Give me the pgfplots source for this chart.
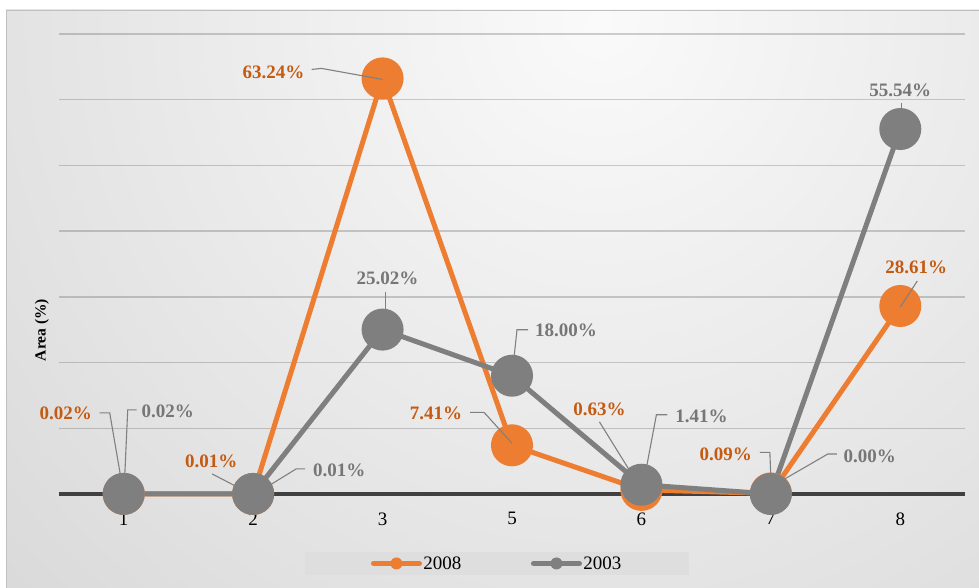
\documentclass[border=0pt]{standalone}
\usepackage{pgfplots}
\pgfplotsset{compat=1.18}
\usetikzlibrary{calc}
\usepackage{fontspec}
\setmainfont{Liberation Serif}

\definecolor{c2008}{HTML}{ED7D31}
\definecolor{c2003}{HTML}{7F7F7F}
\definecolor{t2008}{HTML}{C55A11}
\definecolor{t2003}{HTML}{767676}
\definecolor{leadercol}{HTML}{808080}
\definecolor{axisdark}{HTML}{404040}
\definecolor{bgA}{HTML}{FAFAFA}
\definecolor{bgB}{HTML}{E3E3E3}
\definecolor{bgC}{HTML}{CFCFCF}
\definecolor{bgD}{HTML}{C2C2C2}
\definecolor{bgedge}{HTML}{C0C0C0}
\definecolor{legfill}{HTML}{DEDEDE}

\pgfdeclareradialshading{chartbg}{\pgfpoint{0bp}{0bp}}{%
  color(0bp)=(bgA); color(21bp)=(bgB); color(39bp)=(bgC); color(50bp)=(bgD)}

\newcommand{\lblfont}{\fontsize{19bp}{22bp}\selectfont\bfseries}
% data label: point, text colour, text, dx, dy
\newcommand{\dlabel}[5]{\node[font=\lblfont, text=#2, inner sep=0pt] at ($(#1)+(#4bp,#5bp)$) {#3};}

\begin{document}
\begin{tikzpicture}
\useasboundingbox (0,0) rectangle (979bp,588bp);
\fill[white] (0,0) rectangle (979bp,588bp);
% chart area with a soft radial gradient
\begin{scope}
  \clip (6bp,0bp) rectangle (979bp,578bp);
  \shade[shading=chartbg] (-100bp,-132bp) rectangle (1300bp,1268bp);
\end{scope}
\draw[bgedge, line width=1bp] (6.5bp,0bp) -- (6.5bp,577.5bp) -- (979bp,577.5bp);

\begin{axis}[
  at={(59bp,94bp)}, anchor=south west,
  scale only axis, width=906bp, height=460bp,
  xmin=-0.5, xmax=6.5, ymin=0, ymax=70,
  clip=false,
  axis x line=bottom, axis y line=left,
  x axis line style={-, draw=axisdark, line width=3bp},
  y axis line style={draw=none},
  xtick={0,...,6},
  xticklabels={\textrm{1},\textrm{2},\textrm{3},\textrm{5},\textrm{6},\textrm{7},\textrm{8}},
  xticklabel style={font=\fontsize{19bp}{22bp}\selectfont, text=black, yshift=-15bp},
  ytick={10,20,...,70}, yticklabels={},
  major tick length=0pt,
  ymajorgrids, grid style={black, opacity=0.18, line width=1.3bp},
  legend columns=2,
  legend image code/.code={%
    \draw[#1, line width=5bp, line cap=round] (0bp,0bp) -- (46bp,0bp);
    \fill[#1, draw=none] (23bp,0bp) circle (6bp);},
  legend style={at={(0.4834,-0.151)}, anchor=center, draw=none, fill=legfill,
    font=\fontsize{19bp}{22bp}\selectfont, inner xsep=66bp, inner ysep=2bp,
    /tikz/every even column/.append style={column sep=68bp},
    nodes={inner xsep=1.5bp}},
]
\addplot[c2008, line width=5bp, mark=*, mark size=18.5bp,
  mark options={draw=none, fill=c2008}]
  coordinates {(0,0.02) (1,0.01) (2,63.24) (3,7.41) (4,0.63) (5,0.09) (6,28.61)};
\addplot[c2003, line width=5bp, mark=*, mark size=18.5bp,
  mark options={draw=none, fill=c2003}]
  coordinates {(0,0.02) (1,0.01) (2,25.02) (3,18.00) (4,1.41) (5,0.00) (6,55.54)};
\legend{2008,2003}

% anchor points for the data labels
\coordinate (a0) at (axis cs:0,0.02);
\coordinate (a1) at (axis cs:1,0.01);
\coordinate (a2) at (axis cs:2,63.24);
\coordinate (a3) at (axis cs:3,7.41);
\coordinate (a4) at (axis cs:4,0.63);
\coordinate (a5) at (axis cs:5,0.09);
\coordinate (a6) at (axis cs:6,28.61);
\coordinate (b0) at (axis cs:0,0.02);
\coordinate (b1) at (axis cs:1,0.01);
\coordinate (b2) at (axis cs:2,25.02);
\coordinate (b3) at (axis cs:3,18.00);
\coordinate (b4) at (axis cs:4,1.41);
\coordinate (b5) at (axis cs:5,0.00);
\coordinate (b6) at (axis cs:6,55.54);
\end{axis}

% axis title
\node[font=\fontsize{15.5bp}{18bp}\selectfont\bfseries, rotate=90] at (42bp,258bp) {Area (\%)};

% leader lines
\begin{scope}[leadercol, line width=1.1bp]
  \draw[shift={(a0)}] (-24bp,81bp) -- (-14bp,81bp) -- (-3bp,17bp);
  \draw[shift={(b0)}] (13bp,84bp) -- (4bp,84bp) -- (1bp,17bp);
  \draw[shift={(a1)}] (-41bp,20bp) -- (-16bp,7bp);
  \draw[shift={(b1)}] (52bp,25bp) -- (43bp,25bp) -- (17bp,9bp);
  \draw[shift={(a2)}] (-71bp,9bp) -- (-61bp,10bp) -- (0bp,-1bp);
  \draw[shift={(b2)}] (3bp,38bp) -- (3bp,18bp);
  \draw[shift={(a3)}] (-42bp,33bp) -- (-28bp,33bp) -- (0bp,2bp);
  \draw[shift={(b3)}] (16bp,46bp) -- (5bp,46bp) -- (2bp,18bp);
  \draw[shift={(a4)}] (-42bp,68bp) -- (-11bp,18bp);
  \draw[shift={(b4)}] (26bp,70bp) -- (15bp,70bp) -- (5bp,17bp);
  \draw[shift={(a5)}] (-11bp,41bp) -- (-1bp,41bp) -- (0bp,16bp);
  \draw[shift={(b5)}] (66bp,40bp) -- (57bp,40bp) -- (12bp,14bp);
  \draw[shift={(a6)}] (17bp,25bp) -- (0bp,-1bp);
  \draw[shift={(b6)}] (1bp,26bp) -- (1bp,19bp);
\end{scope}

% data labels
\dlabel{a0}{t2008}{0.02\%}{-58}{81}
\dlabel{b0}{t2003}{0.02\%}{44}{83}
\dlabel{a1}{t2008}{0.01\%}{-42}{33}
\dlabel{b1}{t2003}{0.01\%}{86}{24}
\dlabel{a2}{t2008}{63.24\%}{-109}{6.5}
\dlabel{b2}{t2003}{25.02\%}{5}{51}
\dlabel{a3}{t2008}{7.41\%}{-76}{32}
\dlabel{b3}{t2003}{18.00\%}{54}{45}
\dlabel{a4}{t2008}{0.63\%}{-42}{81}
\dlabel{b4}{t2003}{1.41\%}{60}{68}
\dlabel{a5}{t2008}{0.09\%}{-45}{39}
\dlabel{b5}{t2003}{0.00\%}{99}{38}
\dlabel{a6}{t2008}{28.61\%}{16}{39}
\dlabel{b6}{t2003}{55.54\%}{0}{39}
\end{tikzpicture}
\end{document}
